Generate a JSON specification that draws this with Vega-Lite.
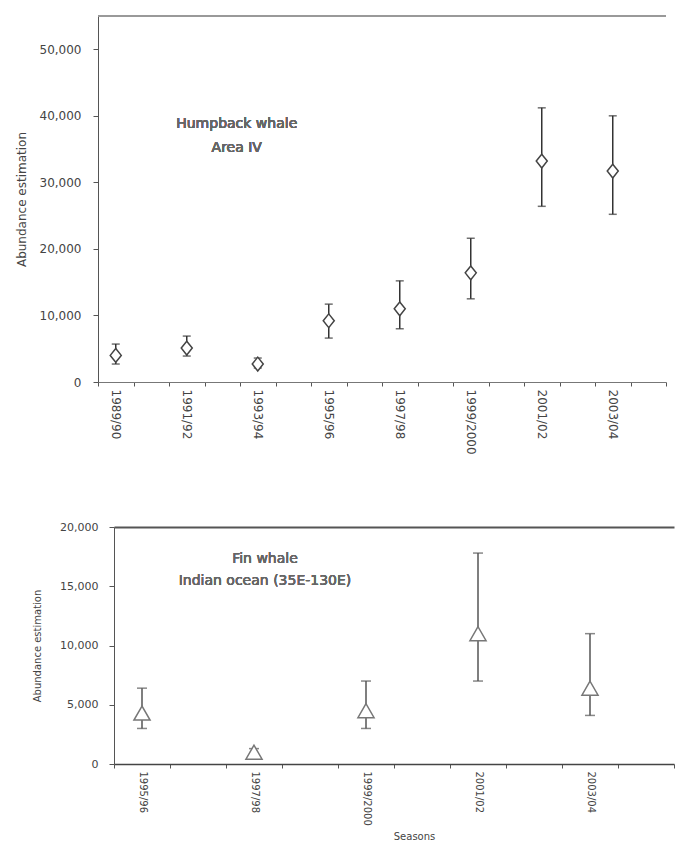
{
  "$schema": "https://vega.github.io/schema/vega-lite/v6.json",
  "padding": {"left": 15, "top": 15, "right": 0, "bottom": 0},
  "background": "white",
  "spacing": 66,
  "config": {
    "view": {"stroke": null},
    "font": "DejaVu Sans",
    "axis": {"grid": false, "labelFont": "DejaVu Sans", "titleFont": "DejaVu Sans", "labelColor": "#444", "titleColor": "#444", "titleFontWeight": "normal", "domainColor": "#555", "tickColor": "#555"}
  },
  "datasets": {
    "humpback": [
      {"season": "1989/90", "estimate": 4000, "lower": 2700, "upper": 5700},
      {"season": "1991/92", "estimate": 5100, "lower": 3900, "upper": 6900},
      {"season": "1993/94", "estimate": 2700, "lower": 2100, "upper": 3600},
      {"season": "1995/96", "estimate": 9200, "lower": 6600, "upper": 11700},
      {"season": "1997/98", "estimate": 11000, "lower": 8000, "upper": 15200},
      {"season": "1999/2000", "estimate": 16400, "lower": 12500, "upper": 21600},
      {"season": "2001/02", "estimate": 33200, "lower": 26400, "upper": 41200},
      {"season": "2003/04", "estimate": 31700, "lower": 25200, "upper": 40000}
    ],
    "fin": [
      {"season": "1995/96", "estimate": 4300, "lower": 3000, "upper": 6400},
      {"season": "1997/98", "estimate": 1000, "lower": 800, "upper": 1300},
      {"season": "1999/2000", "estimate": 4500, "lower": 3000, "upper": 7000},
      {"season": "2001/02", "estimate": 11000, "lower": 7000, "upper": 17800},
      {"season": "2003/04", "estimate": 6400, "lower": 4100, "upper": 11000}
    ]
  },
  "vconcat": [
    {
      "width": 568,
      "height": 366,
      "data": {"name": "humpback"},
      "encoding": {
        "x": {
          "field": "season", "type": "nominal",
          "scale": {"type": "band", "paddingInner": 0, "paddingOuter": 0,
            "domain": ["1989/90","1990/91","1991/92","1992/93","1993/94","1994/95","1995/96","1996/97","1997/98","1998/99","1999/2000","2000/01","2001/02","2002/03","2003/04","2004/05"]},
          "axis": {"title": null, "tickBand": "extent", "labelAngle": 90, "labelFontSize": 12, "tickSize": 4, "labelPadding": 3, "domainColor": "#777",
            "labelExpr": "toNumber(substring(datum.value, 0, 4)) % 2 == 1 ? datum.value : ''"}
        }
      },
      "layer": [
        {
          "mark": {"type": "rule", "color": "#999", "strokeWidth": 2},
          "encoding": {"x": null, "y": {"datum": 55000, "type": "quantitative"}}
        },
        {
          "mark": {"type": "rule", "color": "#333", "strokeWidth": 1.5},
          "encoding": {
            "y": {"field": "lower", "type": "quantitative",
              "scale": {"domain": [0, 55000], "nice": false},
              "axis": {"title": "Abundance estimation", "titleFontSize": 12, "labelFontSize": 12, "values": [0, 10000, 20000, 30000, 40000, 50000], "format": ",d", "tickSize": 5, "labelPadding": 12, "titlePadding": 11}},
            "y2": {"field": "upper"}
          }
        },
        {
          "mark": {"type": "tick", "color": "#333", "size": 8, "thickness": 1.5},
          "encoding": {"y": {"field": "lower", "type": "quantitative"}}
        },
        {
          "mark": {"type": "tick", "color": "#333", "size": 8, "thickness": 1.5},
          "encoding": {"y": {"field": "upper", "type": "quantitative"}}
        },
        {
          "mark": {"type": "point", "shape": "M0,-1L0.8,0L0,1L-0.8,0Z", "size": 190, "filled": true, "fill": "white", "stroke": "#444", "strokeWidth": 1.5, "opacity": 1},
          "encoding": {"y": {"field": "estimate", "type": "quantitative"}}
        },
        {
          "mark": {"type": "text", "fontSize": 14, "fontWeight": "normal", "color": "#666", "align": "center", "lineHeight": 24, "dx": -21},
          "encoding": {
            "x": {"datum": "1993/94"},
            "y": {"datum": 38800, "type": "quantitative"},
            "text": {"value": ["Humpback whale", "Area IV"]}
          }
        }
      ]
    },
    {
      "width": 576,
      "height": 237,
      "data": {"name": "fin"},
      "resolve": {"axis": {"x": "independent"}},
      "layer": [
        {
          "mark": {"type": "rule", "color": "#555", "strokeWidth": 1.5},
          "encoding": {
            "x": {
              "field": "season", "type": "nominal",
              "scale": {"type": "band", "paddingInner": 0, "paddingOuter": 0, "range": [16, 576],
                "domain": ["1995/96","1996/97","1997/98","1998/99","1999/2000","2000/01","2001/02","2002/03","2003/04","2004/05"]},
              "axis": {"title": "Seasons", "titleFontSize": 10, "titlePadding": 6, "titleX": 316, "tickBand": "extent", "labelAngle": 90, "labelFontSize": 10, "tickSize": 4, "labelPadding": 3, "domainColor": "#444", "domainWidth": 1.5,
                "labelExpr": "toNumber(substring(datum.value, 0, 4)) % 2 == 1 ? datum.value : ''"}
            },
            "y": {"field": "lower", "type": "quantitative",
              "scale": {"domain": [0, 20000], "nice": false},
              "axis": {"title": "Abundance estimation", "titleFontSize": 10, "labelFontSize": 11, "values": [0, 5000, 10000, 15000, 20000], "format": ",d", "tickSize": 5, "labelPadding": 11, "titlePadding": 17, "offset": -16}},
            "y2": {"field": "upper"}
          }
        },
        {
          "mark": {"type": "tick", "color": "#555", "size": 10, "thickness": 1.5},
          "encoding": {
            "x": {"field": "season", "type": "nominal",
              "axis": {"orient": "top", "title": null, "labels": false, "ticks": false, "domainColor": "#555", "domainWidth": 2}},
            "y": {"field": "lower", "type": "quantitative"}
          }
        },
        {
          "mark": {"type": "tick", "color": "#555", "size": 10, "thickness": 1.5},
          "encoding": {
            "x": {"field": "season", "type": "nominal", "axis": null},
            "y": {"field": "upper", "type": "quantitative"}
          }
        },
        {
          "mark": {"type": "point", "shape": "triangle-up", "size": 260, "filled": true, "fill": "white", "stroke": "#777", "strokeWidth": 1.5, "opacity": 1},
          "encoding": {
            "x": {"field": "season", "type": "nominal", "axis": null},
            "y": {"field": "estimate", "type": "quantitative"}
          }
        },
        {
          "mark": {"type": "text", "fontSize": 14, "fontWeight": "normal", "color": "#666", "align": "center", "lineHeight": 22, "dx": 11},
          "encoding": {
            "x": {"datum": "1997/98", "axis": null},
            "y": {"datum": 17300, "type": "quantitative"},
            "text": {"value": ["Fin whale", "Indian ocean (35E-130E)"]}
          }
        }
      ]
    }
  ]
}
